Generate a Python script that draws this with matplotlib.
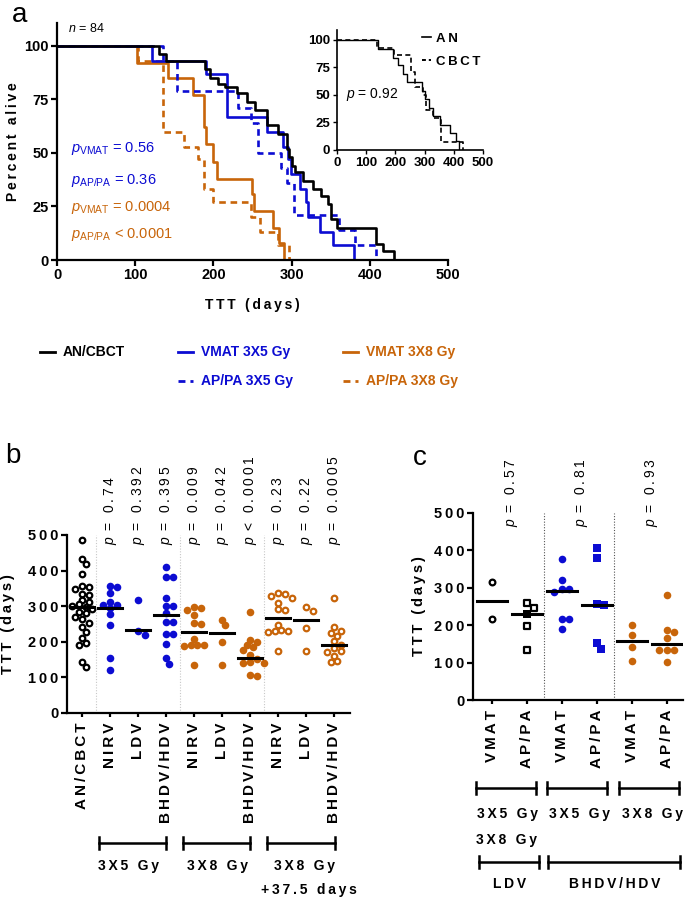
import numpy as np
import matplotlib
matplotlib.use('Agg')
import matplotlib.pyplot as plt
from matplotlib.lines import Line2D

plt.rcParams['font.family'] = ['Liberation Sans', 'DejaVu Sans']
plt.rcParams['mathtext.fontset'] = 'custom'
plt.rcParams['mathtext.rm'] = 'Liberation Sans'
plt.rcParams['mathtext.it'] = 'Liberation Sans:italic'
plt.rcParams['mathtext.bf'] = 'Liberation Sans:bold'

BLUE = '#0c0cd2'
ORANGE = '#c8650a'
GAP = '\u2009'

# ---------------- panel a: survival steps (days, percent alive) ----------------
an_cbct_t = [0, 130, 139, 189, 196, 206, 215, 230, 243, 253, 268, 283, 294, 297, 301, 304,
             315, 327, 338, 347, 351, 358, 408, 417, 431]
an_cbct_s = [100, 96, 93, 89, 85, 82, 81, 78, 74, 70, 63, 59, 52, 48, 44, 41,
             37, 33, 30, 26, 19, 15, 7.5, 4, 0]
vmat5_t = [0, 121, 191, 217, 268, 289, 296, 299, 311, 318, 321, 336, 353, 380]
vmat5_s = [100, 93, 87, 67, 60, 53, 47, 40, 33, 27, 20, 13, 7, 0]
appa5_t = [0, 135, 154, 231, 248, 257, 287, 294, 303, 360, 381, 408]
appa5_s = [100, 93, 79, 71, 64, 50, 43, 36, 21, 14, 7, 0]
vmat8_t = [0, 102, 142, 174, 188, 191, 199, 204, 249, 252, 276, 284, 290]
vmat8_s = [100, 92, 85, 77, 62, 54, 46, 38, 31, 23, 15, 8, 0]
appa8_t = [0, 104, 135, 163, 180, 188, 200, 248, 260, 283, 297]
appa8_s = [100, 93, 60, 53, 47, 33, 27, 20, 13, 7, 0]

# inset
an_t = [0, 142, 193, 210, 227, 241, 290, 301, 316, 330, 352, 386, 409, 418]
an_s = [100, 92, 84, 77, 69, 62, 54, 46, 38, 31, 23, 15, 8, 0]
cbct_t = [0, 136, 195, 252, 267, 295, 305, 330, 355, 432]
cbct_s = [100, 93, 86, 71, 57, 50, 36, 29, 7, 0]

a_pvals = ['0.56', '0.36', '0.0004', '0.0001']
a_psubs = ['VMAT', 'AP/PA', 'VMAT', 'AP/PA']
a_pops = ['=', '=', '=', '<']

# ---------------- panel b: TTT (days) per group ----------------
b_labels = ['AN/CBCT', 'NIRV', 'LDV', 'BHDV/HDV', 'NIRV', 'LDV', 'BHDV/HDV', 'NIRV', 'LDV', 'BHDV/HDV']
b_an_cbct = [486, 432, 418, 390, 357, 353, 349, 335, 331, 318, 312, 305, 300, 297, 293, 285,
             280, 270, 265, 253, 242, 228, 210, 196, 190, 143, 129]
b_nirv5 = [358, 353, 338, 312, 304, 303, 295, 278, 247, 154, 121]
b_ldv5 = [318, 231, 220]
b_bhdv5 = [409, 383, 383, 324, 301, 300, 280, 257, 257, 221, 221, 193, 154, 138]
b_nirv8 = [299, 296, 290, 275, 253, 250, 208, 192, 191, 190, 188, 136]
b_ldv8 = [261, 247, 200, 135]
b_bhdv8 = [283, 204, 200, 190, 186, 176, 164, 152, 142, 140, 140, 106, 104]
b_nirv8d = [338, 333, 329, 322, 310, 292, 290, 246, 232, 230, 229, 228, 173]
b_ldv8d = [298, 286, 238, 173]
b_bhdv8d = [322, 241, 230, 226, 215, 201, 190, 182, 173, 172, 160, 145, 142]
b_groups = [b_an_cbct, b_nirv5, b_ldv5, b_bhdv5, b_nirv8, b_ldv8, b_bhdv8, b_nirv8d, b_ldv8d, b_bhdv8d]
b_medians = [297, 296, 232, 275, 228, 224, 154, 266, 262, 192]
b_pops = ['=', '=', '=', '=', '=', '<', '=', '=', '=']
b_pvals = ['0.74', '0.392', '0.395', '0.009', '0.042', '0.0001', '0.23', '0.22', '0.0005']
b_dose = ['3X5 Gy', '3X8 Gy', '3X8 Gy']

# ---------------- panel c ----------------
c_labels = ['VMAT', 'AP/PA', 'VMAT', 'AP/PA', 'VMAT', 'AP/PA']
c_vmat_ldv = [315, 216]
c_appa_ldv = [259, 246, 199, 134]
c_appa_ldv_8 = [229]
c_vmat_bhdv5 = [378, 322, 298, 297, 288, 217, 216, 190]
c_appa_bhdv5 = [407, 380, 256, 253, 152, 136]
c_vmat_bhdv8 = [201, 174, 143, 103]
c_appa_bhdv8 = [282, 188, 182, 165, 134, 134, 133, 102]
c_medians = [266, 229, 292, 255, 158, 149]
c_pvals = ['0.57', '0.81', '0.93']

W, H = 685, 898
fig = plt.figure(figsize=(W / 100, H / 100), dpi=100)


def px_axes(left, top, right, bottom):
    return fig.add_axes([left / W, 1 - bottom / H, (right - left) / W, (bottom - top) / H])


def sp(s):
    return GAP.join(s)


def style(ax, fs=10):
    for k in ['top', 'right']:
        ax.spines[k].set_visible(False)
    for k in ['left', 'bottom']:
        ax.spines[k].set_linewidth(1.6)
    ax.tick_params(width=1.6, length=4, labelsize=fs, pad=2)
    for lab in ax.get_xticklabels() + ax.get_yticklabels():
        lab.set_fontweight('bold')


def swarm(vals, ppx, ppy, diam):
    # simple beeswarm: nearest free x offset for each point (pixel space)
    placed = []
    offs = np.zeros(len(vals))
    step = diam * 0.55
    cands = [0.0]
    for k in range(1, 12):
        cands += [k * step, -k * step]
    for i in np.argsort(vals)[::-1]:
        y = vals[i] * ppy
        for c in cands:
            if all((c - px) ** 2 + (y - py) ** 2 >= (diam * 0.92) ** 2 for px, py in placed):
                break
        placed.append((c, y))
        offs[i] = c / ppx
    return offs


# ================= panel a =================
ax = px_axes(57, 23, 448, 260)
ax.step(vmat8_t, vmat8_s, where='post', color=ORANGE, lw=1.9)
ax.step(appa8_t, appa8_s, where='post', color=ORANGE, lw=1.9, ls=(0, (2.5, 1.8)))
ax.step(vmat5_t, vmat5_s, where='post', color=BLUE, lw=1.9)
ax.step(appa5_t, appa5_s, where='post', color=BLUE, lw=1.9, ls=(0, (2.5, 1.8)))
ax.step(an_cbct_t, an_cbct_s, where='post', color='black', lw=1.9)
ax.set_xlim(0, 500)
ax.set_ylim(0, 110.7)
ax.set_xticks(range(0, 501, 100))
ax.set_yticks(range(0, 101, 25))
style(ax, 10.5)
ax.set_xlabel(sp('TTT (days)'), fontsize=10, fontweight='bold', labelpad=11)
ax.set_ylabel(sp('Percent alive'), fontsize=10, fontweight='bold', labelpad=3)
ax.text(14, 108, '$n$ = 84', fontsize=9, va='center')
for i, (sub, op, v) in enumerate(zip(a_psubs, a_pops, a_pvals)):
    col = BLUE if i < 2 else ORANGE
    ax.text(18, [52, 37, 24.5, 12][i], r'$p_{\mathrm{%s}}$ %s %s' % (sub, op, v),
            color=col, fontsize=10.5, va='center')

# inset
axi = px_axes(337, 30, 483, 150)
axi.step(an_t, an_s, where='post', color='black', lw=1.0)
axi.step(cbct_t, cbct_s, where='post', color='black', lw=1.2, ls=(0, (3, 2)))
axi.set_xlim(0, 500)
axi.set_ylim(0, 109)
axi.set_xticks(range(0, 501, 100))
axi.set_yticks(range(0, 101, 25))
style(axi, 9.5)
axi.tick_params(width=1.0, length=3)
for k in ['left', 'bottom']:
    axi.spines[k].set_linewidth(1.2)
axi.text(30, 50, '$p$ = 0.92', fontsize=10, va='center')
hl = [Line2D([], [], color='black', lw=1.2), Line2D([], [], color='black', lw=1.4, ls=(0, (2, 1.5)))]
axi.legend(hl, [sp('AN'), sp('CBCT')], loc='upper right', bbox_to_anchor=(1.02, 1.02), frameon=False,
           handlelength=0.7, handletextpad=0.4, labelspacing=0.8, borderaxespad=0,
           prop={'size': 9.5, 'weight': 'bold'})

# legend row under panel a
leg_items = [('AN/CBCT', 'black', '-', 40, 352), ('VMAT 3X5 Gy', BLUE, '-', 178, 352),
             ('AP/PA 3X5 Gy', BLUE, '--', 178, 381), ('VMAT 3X8 Gy', ORANGE, '-', 343, 352),
             ('AP/PA 3X8 Gy', ORANGE, '--', 343, 381)]
for lab, col, ls, x0, y0 in leg_items:
    lsty = '-' if ls == '-' else (0, (2.5, 1.8))
    fig.add_artist(Line2D([x0 / W, (x0 + 15) / W], [1 - y0 / H] * 2, transform=fig.transFigure,
                          color=col, lw=2.0, ls=lsty))
    fig.text((x0 + 23) / W, 1 - y0 / H, lab, color=col, fontsize=10, fontweight='bold', va='center')

# ================= panel b =================
axb = px_axes(66.7, 535, 350, 713)
ppx_b, ppy_b = 28.0, 178 / 500
b_colors = ['black', BLUE, BLUE, BLUE, ORANGE, ORANGE, ORANGE, ORANGE, ORANGE, ORANGE]
b_hollow = [True, False, False, False, False, False, False, True, True, True]
for sx in [0.5, 3.5, 6.5]:
    axb.axvline(sx, color='#c8c8c8', lw=0.8, ls=(0, (1, 1.5)), zorder=1)
for i, vals in enumerate(b_groups):
    off = swarm(np.array(vals, float), ppx_b, ppy_b, 6.2)
    if b_hollow[i]:
        axb.scatter(i + off, vals, s=16, marker='o', facecolors='white', edgecolors=b_colors[i],
                    linewidths=1.6, zorder=3, clip_on=False)
    else:
        axb.scatter(i + off, vals, s=30, marker='o', color=b_colors[i], linewidths=0, zorder=3,
                    clip_on=False)
    axb.plot([i - 0.43, i + 0.43], [b_medians[i]] * 2, color='black', lw=2.2, zorder=4)
for i, (op, v) in enumerate(zip(b_pops, b_pvals)):
    axb.text(i + 1, 472, '$p$' + sp(' %s %s' % (op, v)), rotation=90, ha='center', va='bottom',
             fontsize=10)
axb.set_xlim(-0.55, 9.57)
axb.set_ylim(0, 500)
axb.set_yticks(range(0, 501, 100), [sp(str(v)) for v in range(0, 501, 100)])
axb.set_xticks(range(10), [sp(s) for s in b_labels], rotation=90)
style(axb, 10.5)
axb.tick_params(axis='x', length=3, labelsize=11, pad=4)
axb.set_ylabel(sp('TTT (days)'), fontsize=10.5, fontweight='bold', labelpad=9)


def bracket(axx, x0, x1, y, tk):
    axx.plot([x0, x1], [y, y], color='black', lw=1.8, clip_on=False)
    axx.plot([x0, x0], [y - tk, y + tk], color='black', lw=1.8, clip_on=False)
    axx.plot([x1, x1], [y - tk, y + tk], color='black', lw=1.8, clip_on=False)


yb = lambda yo: (713 - yo) / ppy_b
for (x0, x1), xl, lab in zip([(0.6, 3.0), (3.6, 6.0), (6.62, 9.05)], [1.65, 4.85, 7.95], b_dose):
    bracket(axb, x0, x1, yb(843), 17)
    axb.text(xl, yb(866), sp(lab), ha='center', va='center', fontsize=10, fontweight='bold')
axb.text(8.1, yb(890), sp('+37.5 days'), ha='center', va='center', fontsize=10, fontweight='bold')

# ================= panel c =================
axc = px_axes(473, 513, 683, 700)
ppx_c, ppy_c = 35.0, 187 / 500
for sx in [1.5, 3.5]:
    axc.axvline(sx, color='#555555', lw=0.8, ls=(0, (1, 1.5)), zorder=1)
c_groups = [c_vmat_ldv, c_appa_ldv + c_appa_ldv_8, c_vmat_bhdv5, c_appa_bhdv5, c_vmat_bhdv8, c_appa_bhdv8]
c_colors = ['black', 'black', BLUE, BLUE, ORANGE, ORANGE]
c_markers = ['o', 's', 'o', 's', 'o', 'o']
for i, vals in enumerate(c_groups):
    off = swarm(np.array(vals, float), ppx_c, ppy_c, 6.8)
    xs = i + off
    if i < 2:
        n_h = len(c_vmat_ldv) if i == 0 else len(c_appa_ldv)
        axc.scatter(xs[:n_h], vals[:n_h], s=17, marker=c_markers[i], facecolors='white',
                    edgecolors='black', linewidths=1.6, zorder=3)
        if n_h < len(vals):
            axc.scatter(xs[n_h:], vals[n_h:], s=30, marker='s', color='black', linewidths=0, zorder=3)
    else:
        axc.scatter(xs, vals, s=34 if c_markers[i] == 's' else 30, marker=c_markers[i],
                    color=c_colors[i], linewidths=0, zorder=3)
    axc.plot([i - 0.43, i + 0.43], [c_medians[i]] * 2, color='black', lw=2.2, zorder=4)
for k, v in enumerate(c_pvals):
    axc.text(2 * k + 0.55, 463, '$p$' + sp(' = %s' % v), rotation=90, ha='center', va='bottom',
             fontsize=10)
axc.set_xlim(-0.54, 5.46)
axc.set_ylim(0, 500)
axc.set_yticks(range(0, 501, 100), [sp(str(v)) for v in range(0, 501, 100)])
axc.set_xticks(range(6), [sp(s) for s in c_labels], rotation=90)
style(axc, 10.5)
axc.tick_params(axis='x', length=3, labelsize=11, pad=4)
axc.set_ylabel(sp('TTT (days)'), fontsize=10.5, fontweight='bold', labelpad=6)

yc = lambda yo: (700 - yo) / ppy_c
for (x0, x1), xl, lab in zip([(-0.46, 1.26), (1.57, 3.29), (3.63, 5.34)], [0.46, 2.5, 4.6],
                             ['3X5 Gy', '3X5 Gy', '3X8 Gy']):
    bracket(axc, x0, x1, yc(788), 16)
    axc.text(xl, yc(814), sp(lab), ha='center', va='center', fontsize=10, fontweight='bold')
axc.text(0.43, yc(840), sp('3X8 Gy'), ha='center', va='center', fontsize=10, fontweight='bold')
for (x0, x1), xl, lab in zip([(-0.37, 1.34), (1.6, 5.37)], [0.51, 3.5], ['LDV', 'BHDV/HDV']):
    bracket(axc, x0, x1, yc(862), 16)
    axc.text(xl, yc(884), sp(lab), ha='center', va='center', fontsize=10, fontweight='bold')

# panel letters
fig.text(12 / W, 1 - 15 / H, 'a', fontsize=20, va='center')
fig.text(5 / W, 1 - 456 / H, 'b', fontsize=20, va='center')
fig.text(413 / W, 1 - 458 / H, 'c', fontsize=20, va='center')

fig.savefig('out.png', dpi=100)
